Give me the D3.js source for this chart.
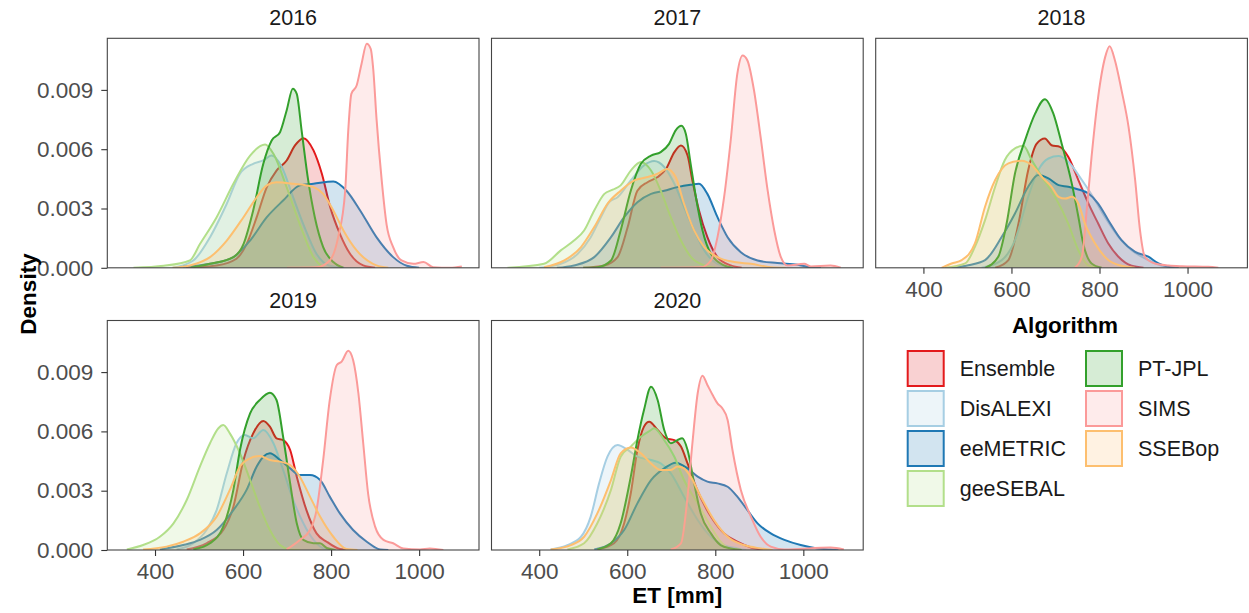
<!DOCTYPE html>
<html>
<head>
<meta charset="utf-8">
<script src="https://cdn.jsdelivr.net/npm/d3@7"></script>
<style>
  body { margin: 0; background: #fff; }
  svg { font-family: Arial, "Liberation Sans", sans-serif; }
</style>
</head>
<body>
<div id="chart"></div>
<script>
// categories + colours (RColorBrewer "Paired"-ish, same as the figure)
const algorithms = ["Ensemble", "DisALEXI", "eeMETRIC", "geeSEBAL", "PT-JPL", "SIMS", "SSEBop"];
const algoColors = ["#E31A1C", "#A6CEE3", "#1F78B4", "#B2DF8A", "#33A02C", "#FB9A99", "#FDBF6F"];
const years = ["2016", "2017", "2018", "2019", "2020"];
const xTicks = [400, 600, 800, 1000];
const yTicks = [0, 0.003, 0.006, 0.009];

// density curves: [ET in mm, density x 1000]
const dens2016 = {
  "Ensemble": [[470,0],[540,0.12],[585,0.46],[608,1.2],[631,2.56],[654,4.08],[676,4.92],[699,5.43],[718,6.19],[737,6.56],[760,5.94],[779,4.76],[798,3.07],[820,1.72],[843,0.71],[873,0.12],[900,0]],
  "DisALEXI": [[440,0],[487,0.37],[525,1.55],[563,3.24],[593,4.76],[623,5.26],[646,5.43],[665,5.68],[688,5.1],[711,3.74],[737,2.2],[767,0.7],[797,0.1],[830,0]],
  "eeMETRIC": [[464,0.05],[525,0.2],[578,0.54],[616,1.38],[654,2.56],[691,3.4],[729,4.17],[760,4.25],[805,4.37],[835,3.9],[866,2.9],[903,1.55],[941,0.54],[972,0.1],[1000,0]],
  "geeSEBAL": [[351,0],[420,0.1],[479,0.37],[502,1.2],[540,2.56],[578,4.25],[616,5.68],[650,6.24],[669,5.77],[699,4.08],[729,2.2],[760,0.54],[782,0]],
  "PT-JPL":   [[480,0],[525,0.2],[578,0.54],[601,1.2],[623,2.9],[646,5.26],[665,6.44],[684,6.86],[699,7.96],[713,9.06],[722,8.8],[733,6.95],[748,4.42],[763,2.56],[782,1.05],[805,0.29],[828,0]],
  "SIMS":     [[700,0],[767,0.03],[797,0.37],[816,1.55],[832,3.9],[839,6.95],[846,8.8],[858,9.22],[869,10.3],[881,11.33],[890,11.08],[896,9.98],[903,7.6],[915,4.42],[926,2.2],[941,1.05],[960,0.37],[987,0.2],[1010,0.29],[1032,0.03],[1070,0],[1097,0.07]],
  "SSEBop":   [[440,0],[479,0.12],[525,0.54],[563,1.38],[601,2.56],[631,3.57],[654,4.17],[676,4.33],[714,4.25],[760,4.08],[782,3.74],[805,2.9],[828,1.89],[858,0.88],[903,0.12],[930,0]]
};

const dens2017 = {
  "Ensemble": [[500,0],[548,0.12],[578,0.54],[601,2.06],[623,3.9],[646,4.33],[669,4.59],[688,5.0],[707,5.85],[722,6.19],[737,5.68],[748,4.42],[763,2.9],[782,1.55],[805,0.54],[835,0.12],[860,0]],
  "DisALEXI": [[400,0],[449,0.2],[487,0.7],[517,1.55],[540,2.56],[559,3.32],[578,3.57],[608,4.42],[638,5.18],[661,5.4],[684,5.1],[707,4.25],[729,3.07],[752,1.89],[775,0.88],[805,0.2],[840,0]],
  "eeMETRIC": [[440,0],[479,0.12],[525,0.54],[563,1.55],[593,2.56],[623,3.32],[654,3.74],[684,3.9],[714,4.08],[744,4.2],[763,4.25],[782,3.74],[805,2.56],[828,1.55],[858,0.79],[896,0.37],[941,0.24],[987,0.15],[1017,0.03],[1040,0]],
  "geeSEBAL": [[328,0],[411,0.2],[449,0.88],[479,1.38],[502,1.89],[525,2.9],[548,3.74],[567,3.95],[585,4.17],[608,4.92],[631,5.35],[654,4.92],[676,3.9],[699,2.56],[722,1.38],[745,0.54],[775,0.12],[800,0]],
  "PT-JPL":   [[500,0],[532,0.03],[563,0.37],[585,1.89],[608,3.9],[631,5.26],[654,5.68],[676,5.85],[695,6.27],[710,6.95],[723,7.18],[733,6.78],[744,5.26],[756,3.57],[771,1.89],[790,0.71],[820,0.12],[840,0]],
  "SIMS":     [[676,0],[767,0.03],[790,0.37],[805,1.55],[820,3.57],[835,6.44],[850,9.81],[862,10.74],[873,10.49],[888,8.97],[903,6.61],[919,3.9],[934,1.89],[949,0.54],[964,0.12],[1002,0.2],[1017,0.07],[1062,0.12],[1085,0]],
  "SSEBop":   [[411,0.03],[457,0.37],[495,1.05],[525,2.06],[555,3.24],[585,3.9],[616,4.42],[646,4.59],[669,4.76],[691,5.0],[710,4.59],[729,3.24],[752,1.89],[775,1.05],[805,0.54],[843,0.29],[881,0.2],[926,0.03],[960,0]]
};

const dens2018 = {
  "Ensemble": [[563,0],[593,0.39],[616,2.24],[638,4.94],[657,6.27],[676,6.54],[691,6.2],[710,6.12],[729,5.62],[752,4.44],[775,3.25],[797,2.24],[820,1.23],[843,0.56],[873,0.1],[900,0]],
  "DisALEXI": [[532,0],[578,0.39],[608,1.4],[638,3.59],[661,4.94],[684,5.53],[707,5.65],[729,5.36],[760,4.44],[790,3.42],[812,2.58],[843,1.57],[873,0.89],[911,0.39],[941,0.1],[970,0]],
  "eeMETRIC": [[464,0],[502,0.13],[540,0.39],[578,1.57],[608,2.75],[638,4.1],[661,4.69],[684,4.52],[707,4.18],[729,4.1],[752,3.96],[775,3.76],[797,3.25],[820,2.41],[850,1.4],[881,0.81],[911,0.56],[934,0.22],[957,0.05],[980,0]],
  "geeSEBAL": [[449,0],[495,0.22],[517,1.06],[540,2.41],[563,4.1],[585,5.45],[608,6.04],[627,6.17],[646,5.45],[669,4.6],[699,3.59],[729,2.24],[752,0.89],[775,0.12],[800,0]],
  "PT-JPL":   [[540,0],[570,0.56],[589,2.24],[608,4.77],[631,6.46],[654,7.81],[676,8.53],[695,7.81],[714,6.29],[737,4.27],[752,2.58],[763,1.23],[782,0.22],[805,0]],
  "SIMS":     [[744,0],[760,0.56],[771,2.92],[782,5.62],[797,8.65],[813,10.67],[823,11.21],[835,10.5],[850,8.99],[866,7.13],[881,4.44],[892,1.91],[903,0.56],[926,0.22],[957,0.12],[987,0.08],[1047,0.05],[1070,0]],
  "SSEBop":   [[441,0],[464,0.22],[487,0.39],[517,1.23],[540,3.09],[563,4.44],[593,5.28],[623,5.41],[646,5.19],[669,4.6],[691,4.1],[707,3.59],[722,3.5],[737,3.59],[752,3.25],[767,2.24],[790,1.23],[820,0.39],[850,0.1],[880,0]]
};

const dens2019 = {
  "Ensemble": [[472,0.03],[517,0.34],[555,1.01],[578,2.19],[601,4.55],[623,5.9],[646,6.53],[661,6.24],[676,5.65],[691,5.56],[707,5.06],[722,3.71],[744,2.02],[767,0.84],[790,0.42],[820,0.05],[840,0]],
  "DisALEXI": [[449,0.03],[487,0.34],[517,1.01],[540,2.02],[563,3.88],[585,5.4],[604,5.82],[623,5.65],[646,6.07],[669,5.4],[691,4.05],[714,2.53],[737,1.35],[760,0.51],[790,0.03],[810,0]],
  "eeMETRIC": [[411,0.03],[464,0.25],[502,0.51],[540,1.01],[578,2.02],[608,3.04],[631,4.22],[646,4.72],[661,4.89],[684,4.55],[707,4.13],[729,3.79],[752,3.79],[775,3.54],[797,2.7],[820,1.85],[850,1.01],[881,0.42],[911,0.03],[930,0]],
  "geeSEBAL": [[336,0.03],[373,0.25],[411,0.67],[442,1.35],[472,2.53],[502,4.22],[525,5.4],[544,6.16],[555,6.32],[570,5.9],[593,4.89],[616,3.54],[638,2.19],[661,1.01],[684,0.25],[706,0.03],[730,0]],
  "PT-JPL":   [[487,0.03],[525,0.34],[555,1.18],[578,3.04],[593,5.06],[616,6.91],[638,7.59],[661,7.96],[676,7.59],[691,5.73],[707,3.37],[722,1.35],[737,0.51],[760,0.34],[775,0.34],[790,0.1],[810,0]],
  "SIMS":     [[699,0.03],[729,0.51],[752,1.01],[767,2.02],[782,4.55],[797,7.59],[813,9.36],[824,9.53],[839,10.08],[850,9.61],[862,7.93],[873,5.4],[884,2.87],[900,1.18],[919,0.51],[941,0.34],[964,0.08],[1002,0.03],[1024,0.08],[1055,0]],
  "SSEBop":   [[373,0.03],[426,0.17],[464,0.42],[502,0.84],[540,1.69],[570,3.04],[593,4.22],[616,4.64],[638,4.76],[661,4.55],[684,4.47],[707,4.3],[729,3.71],[752,2.7],[775,1.69],[805,0.67],[835,0.05],[860,0]]
};

const dens2020 = {
  "Ensemble": [[532,0.03],[570,0.34],[593,1.35],[608,2.87],[623,5.06],[638,6.24],[650,6.49],[669,6.07],[688,5.65],[707,5.56],[722,5.23],[737,4.38],[759,3.04],[790,1.69],[820,0.84],[850,0.42],[881,0.13],[910,0]],
  "DisALEXI": [[426,0.03],[464,0.25],[495,0.67],[517,1.69],[536,3.37],[555,4.72],[578,5.31],[601,5.06],[623,4.72],[654,4.55],[676,4.38],[699,3.88],[729,2.7],[760,1.52],[790,0.67],[820,0.25],[850,0.08],[870,0]],
  "eeMETRIC": [[525,0.03],[563,0.34],[593,1.01],[623,2.36],[654,3.54],[684,4.13],[710,4.42],[737,4.13],[760,3.71],[782,3.46],[805,3.37],[828,3.2],[850,2.7],[873,2.02],[896,1.35],[926,0.84],[957,0.51],[994,0.25],[1032,0.08],[1062,0.03],[1080,0]],
  "geeSEBAL": [[464,0.03],[502,0.34],[532,1.35],[563,3.04],[585,4.72],[608,5.23],[631,5.73],[654,6.07],[661,6.16],[684,5.56],[707,4.72],[729,3.54],[760,2.36],[790,1.18],[812,0.42],[835,0.05],[860,0]],
  "PT-JPL":   [[532,0.03],[563,0.34],[585,1.35],[608,3.71],[623,5.56],[638,7.08],[654,8.26],[669,7.59],[684,6.07],[699,5.4],[714,5.56],[725,5.65],[737,5.06],[752,3.37],[767,1.85],[790,0.84],[812,0.25],[835,0.08],[860,0]],
  "SIMS":     [[699,0.03],[722,0.34],[737,2.7],[748,5.4],[760,7.93],[771,8.82],[782,8.35],[794,7.84],[805,7.42],[816,7.17],[828,6.58],[839,5.06],[858,3.04],[881,1.69],[903,0.67],[926,0.17],[957,0.03],[1062,0.13],[1092,0.03]],
  "SSEBop":   [[426,0.03],[472,0.25],[502,0.67],[532,1.85],[563,3.54],[585,4.89],[608,5.19],[631,4.89],[654,4.38],[676,4.05],[699,4.05],[714,4.22],[729,4.13],[744,3.71],[767,2.7],[797,1.52],[828,0.67],[865,0.25],[903,0.08],[930,0]]
};

const densByYear = [dens2016, dens2017, dens2018, dens2019, dens2020];

// layout
const width = 1249, height = 613;
const colLeft = [107.3, 491.5, 875.7];
const rowTop = [38.3, 320.5];
const pw = 371.7, ph = 229.5;

const svg = d3.select("#chart").append("svg")
  .attr("width", width)
  .attr("height", height);

const x = d3.scaleLinear().domain([291.6, 1136]).range([0, pw]);
const y = d3.scaleLinear().domain([0, 0.01161]).range([ph, 0]);
const color = d3.scaleOrdinal().domain(algorithms).range(algoColors);

const area = d3.area()
  .x(d => x(d[0]))
  .y0(y(0))
  .y1(d => y(d[1] / 1000))
  .curve(d3.curveMonotoneX);
const line = d3.line()
  .x(d => x(d[0]))
  .y(d => y(d[1] / 1000))
  .curve(d3.curveMonotoneX);

years.forEach((yr, i) => {
  const col = i % 3, row = Math.floor(i / 3);
  const g = svg.append("g")
    .attr("transform", `translate(${colLeft[col]}, ${rowTop[row]})`);

  // strip title
  g.append("text")
    .attr("x", pw / 2)
    .attr("y", -13)
    .attr("text-anchor", "middle")
    .attr("font-size", "21.5px")
    .attr("fill", "#1a1a1a")
    .text(yr);

  const clipId = "clip" + yr;
  g.append("clipPath").attr("id", clipId)
    .append("rect").attr("width", pw).attr("height", ph);

  const plot = g.append("g").attr("clip-path", `url(#${clipId})`);
  algorithms.forEach(a => {
    const pts = densByYear[i][a];
    plot.append("path")
      .datum(pts)
      .attr("d", area)
      .attr("fill", color(a))
      .attr("fill-opacity", 0.2);
    plot.append("path")
      .datum(pts)
      .attr("d", line)
      .attr("fill", "none")
      .attr("stroke", color(a))
      .attr("stroke-width", 2);
  });

  // panel border
  g.append("rect")
    .attr("width", pw)
    .attr("height", ph)
    .attr("fill", "none")
    .attr("stroke", "#444")
    .attr("stroke-width", 1.1);

  // y axis only on left column
  if (col === 0) {
    const yAxis = g.append("g")
      .call(d3.axisLeft(y).tickValues(yTicks).tickSize(6).tickPadding(8).tickFormat(d3.format(".3f")));
    yAxis.select(".domain").remove();
    yAxis.selectAll("line").attr("stroke", "#333").attr("stroke-width", 1.1);
    yAxis.selectAll("text")
      .attr("font-size", "22.5px")
      .attr("font-family", "Arial, 'Liberation Sans', sans-serif")
      .attr("fill", "#4d4d4d");
  }

  // x axis on bottom row and on 2018 (nothing below it)
  if (row === 1 || col === 2) {
    const xAxis = g.append("g")
      .attr("transform", `translate(0, ${ph})`)
      .call(d3.axisBottom(x).tickValues(xTicks).tickSize(6).tickPadding(7).tickFormat(d3.format("d")));
    xAxis.select(".domain").remove();
    xAxis.selectAll("line").attr("stroke", "#333").attr("stroke-width", 1.1);
    xAxis.selectAll("text")
      .attr("font-size", "22.5px")
      .attr("font-family", "Arial, 'Liberation Sans', sans-serif")
      .attr("fill", "#4d4d4d");
  }
});

// axis titles
svg.append("text")
  .attr("x", (colLeft[0] + colLeft[2] + pw) / 2)
  .attr("y", 603)
  .attr("text-anchor", "middle")
  .attr("font-size", "22.5px")
  .attr("font-weight", "bold")
  .text("ET [mm]");

svg.append("text")
  .attr("transform", "translate(36, 294) rotate(-90)")
  .attr("text-anchor", "middle")
  .attr("font-size", "22.5px")
  .attr("font-weight", "bold")
  .text("Density");

// legend
const legend = svg.append("g").attr("class", "legend");
legend.append("text")
  .attr("x", 1065)
  .attr("y", 333)
  .attr("text-anchor", "middle")
  .attr("font-size", "22.5px")
  .attr("font-weight", "bold")
  .text("Algorithm");

const keyX = [906.7, 1085];
const keys = legend.selectAll("g.key")
  .data(algorithms)
  .join("g")
  .attr("class", "key")
  .attr("transform", (d, i) => `translate(${keyX[Math.floor(i / 4)]}, ${350 + (i % 4) * 40})`);

keys.append("rect")
  .attr("x", 1)
  .attr("y", 1)
  .attr("width", 36)
  .attr("height", 35)
  .attr("fill", d => color(d))
  .attr("fill-opacity", 0.2)
  .attr("stroke", d => color(d))
  .attr("stroke-width", 2);

keys.append("text")
  .attr("x", 53)
  .attr("y", 18.5)
  .attr("dy", "0.36em")
  .attr("font-size", "21.5px")
  .attr("fill", "#1a1a1a")
  .text(d => d);
</script>
</body>
</html>
